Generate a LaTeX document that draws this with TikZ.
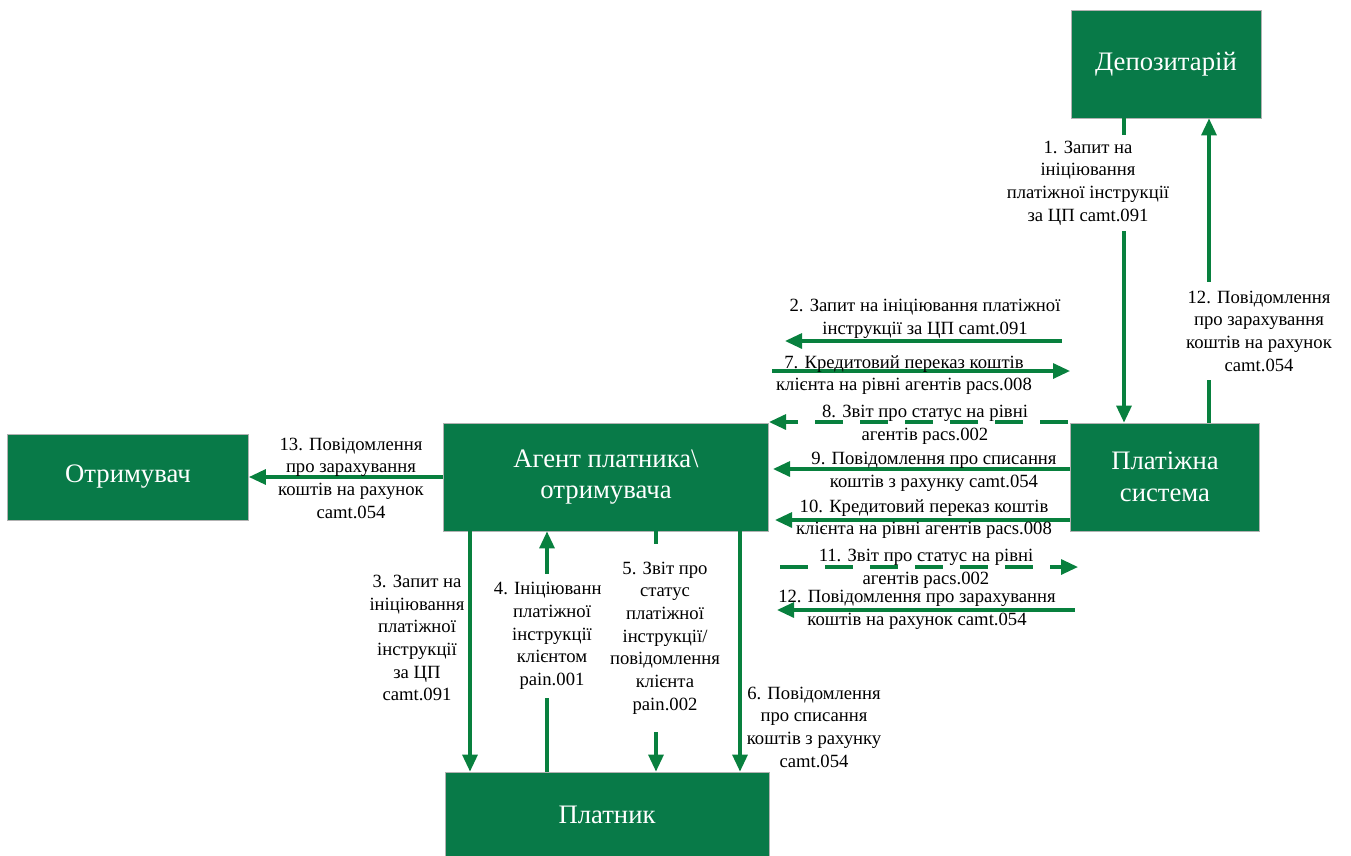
\documentclass[tikz,border=0pt]{standalone}
\usepackage{fontspec}
\setmainfont{Liberation Serif}
\usetikzlibrary{arrows.meta}

\definecolor{boxgreen}{RGB}{8,122,72}
\definecolor{arrgreen}{RGB}{8,128,62}

\begin{document}
\begin{tikzpicture}[x=1pt, y=-1pt,
    box/.style={rectangle, draw=gray!60, line width=0.8pt, fill=boxgreen, text=white, align=center, inner sep=0pt, font=\fontsize{26.7}{31.5}\selectfont},
    lbl/.style={align=center, inner sep=0pt, font=\fontsize{18.67}{22.7}\selectfont},
    arr/.style={draw=arrgreen, line width=3.2pt, -{Triangle[length=17pt, width=15pt]}},
    dsh/.style={arr, dash pattern=on 28pt off 17pt}
]
\useasboundingbox (0,0) rectangle (1351,855);

% boxes
\node[box, minimum width=190pt, minimum height=108pt] (dep) at (1166,64) {Депозитарій};
\node[box, minimum width=189pt, minimum height=108pt] (psys) at (1165,477) {Платіжна\\система};
\node[box, minimum width=325pt, minimum height=108pt] (agent) at (606,477) {Агент платника\textbackslash\\отримувача};
\node[box, minimum width=241pt, minimum height=86pt] (recv) at (128,477) {Отримувач};
\node[box, minimum width=324pt, minimum height=86pt] (payer) at (607,815) {Платник};

% depository <-> payment system
\coordinate (c1) at (1124,0);
\coordinate (c12) at (1209,0);
\draw[arr] (dep.south -| c1) -- (psys.north -| c1);
\draw[arr] (psys.north -| c12) -- (dep.south -| c12);

% agent <-> payment system
\coordinate (a2s) at (1062,341);  \coordinate (a2e) at (785,341);
\coordinate (a7s) at (772,371);   \coordinate (a7e) at (1070,371);
\coordinate (a8s) at (1068,422);  \coordinate (a8e) at (769,422);
\coordinate (a9) at (773,469);
\coordinate (a10) at (775,520);
\coordinate (a11s) at (780,567);  \coordinate (a11e) at (1078,567);
\coordinate (a12s) at (1075,610); \coordinate (a12e) at (777,610);
\draw[arr] (a2s) -- (a2e);
\draw[arr] (a7s) -- (a7e);
\draw[dsh] (a8s) -- (a8e);
\draw[arr] (psys.west |- a9) -- (a9);
\draw[arr] (psys.west |- a10) -- (a10);
\draw[dsh] (a11s) -- (a11e);
\draw[arr] (a12s) -- (a12e);

% agent -> recipient
\draw[arr] (agent.west) -- (recv.east);

% agent <-> payer
\coordinate (v3) at (470,0);
\coordinate (v4) at (547,0);
\coordinate (v5) at (656,0);
\coordinate (v6) at (740,0);
\draw[arr] (agent.south -| v3) -- (payer.north -| v3);
\draw[arr] (payer.north -| v4) -- (agent.south -| v4);
\draw[arr] (agent.south -| v5) -- (payer.north -| v5);
\draw[arr] (agent.south -| v6) -- (payer.north -| v6);

% labels
\node[lbl, fill=white, inner ysep=6pt] (l1) at (1088,183) {1. Запит на\\ініціювання\\платіжної інструкції\\за ЦП camt.091};
\node[lbl, fill=white, inner ysep=9pt] (l12u) at (1259,331) {12. Повідомлення\\про зарахування\\коштів на рахунок\\camt.054};
\node[lbl] (l2) at (925,319) {2. Запит на ініціювання платіжної\\інструкції за ЦП camt.091};
\node[lbl] (l7) at (904,375) {7. Кредитовий переказ коштів\\клієнта на рівні агентів pacs.008};
\node[lbl] (l8) at (925,425) {8. Звіт про статус на рівні\\агентів pacs.002};
\node[lbl] (l9) at (934,472) {9. Повідомлення про списання\\коштів з рахунку camt.054};
\node[lbl] (l10) at (924,519) {10. Кредитовий переказ коштів\\клієнта на рівні агентів pacs.008};
\node[lbl] (l11) at (926,569) {11. Звіт про статус на рівні\\агентів pacs.002};
\node[lbl] (l12) at (917,610) {12. Повідомлення про зарахування\\коштів на рахунок camt.054};
\node[lbl] (l13) at (351,478) {13. Повідомлення\\про зарахування\\коштів на рахунок\\camt.054};
\node[lbl] (l3) at (417,638) {3. Запит на\\ініціювання\\платіжної\\інструкції\\за ЦП\\camt.091};
\begin{scope}
  \clip (480,560) rectangle (600,710);
  \node[lbl, fill=white, inner ysep=8pt] (l4) at (552,636) {4. Ініціювання\\платіжної\\інструкції\\клієнтом\\pain.001};
\end{scope}
\node[lbl, fill=white, inner ysep=18pt] (l5) at (665,638) {5. Звіт про\\статус\\платіжної\\інструкції/\\повідомлення\\клієнта\\pain.002};
\node[lbl] (l6) at (814,727) {6. Повідомлення\\про списання\\коштів з рахунку\\camt.054};
\end{tikzpicture}
\end{document}
